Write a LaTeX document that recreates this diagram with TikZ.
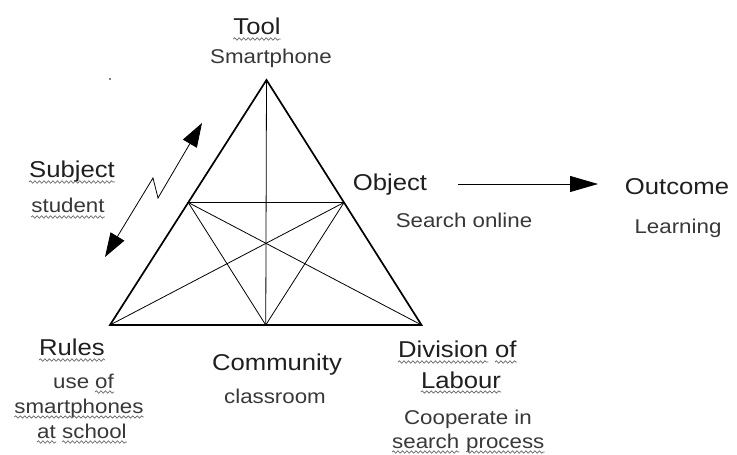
\documentclass[tikz,border=0pt]{standalone}
\usepackage{fontspec}
\setmainfont[FakeStretch=1.12]{Liberation Sans}
\usetikzlibrary{arrows.meta,calc,decorations.pathmorphing}
\newcommand\squig[1]{\draw[squigline] ([yshift=-4bp]#1.base west) -- ([yshift=-4bp]#1.base east);}
\begin{document}
\begin{tikzpicture}[x=1bp,y=-1bp,
  head/.style={inner sep=0pt,font=\fontsize{23}{30}\selectfont,text=black!88,anchor=base},
  sub/.style={inner sep=0pt,font=\fontsize{20}{25}\selectfont,text=black!78,anchor=base},
  squigline/.style={draw=black!60,line width=0.7bp,decorate,decoration={snake,amplitude=1.2bp,segment length=4.5bp}},
  outer/.style={line width=1.7bp,line join=miter},
  inner/.style={line width=0.8bp},
  bigtip/.style={line width=0.8bp,{Triangle[length=24bp,width=16bp]}-{Triangle[length=24bp,width=16bp]}}]
\useasboundingbox (0,0) rectangle (737,455);
% triangle
\coordinate (A) at (266.5,80);
\coordinate (B) at (110,325);
\coordinate (C) at (421.5,325);
\coordinate (mAB) at ($(A)!0.5!(B)$);
\coordinate (mAC) at ($(A)!0.5!(C)$);
\coordinate (mBC) at ($(B)!0.5!(C)$);
\draw[inner] (A) -- (mBC);
\draw[inner] (B) -- (mAC);
\draw[inner] (C) -- (mAB);
\draw[inner] (mAB) -- (mAC) -- (mBC) -- cycle;
\draw[outer] (A) -- (B) -- (C) -- cycle;
% labels
\node[head] (tool) at (257,35) {Tool};
\node[sub] (smart) at (271,64) {Smartphone};
\node[head] (subject) at (72,178) {Subject};
\node[sub] (student) at (68,213) {student};
\node[head] (object) at (390,191) {Object};
\node[sub] (search) at (464,228) {Search online};
\node[head] (outcome) at (677,195) {Outcome};
\node[sub] (learning) at (678,234) {Learning};
\node[head] (rules) at (72,356) {Rules};
\node[sub,anchor=base west] (use) at (53,388) {use};
\node[sub,anchor=base west] (of1) at (95,388) {of};
\node[sub] (smartphones) at (79,413) {smartphones};
\node[sub,anchor=base west] (at) at (37,438) {at};
\node[sub,anchor=base west] (school) at (62,438) {school};
\node[head] (community) at (277,370) {Community};
\node[sub] (classroom) at (275,403) {classroom};
\node[head,anchor=base west] (division) at (398,358) {Division};
\node[head,anchor=base west] (of2) at (495,358) {of};
\node[head] (labour) at (461,388) {Labour};
\node[sub] (coop) at (468,424) {Cooperate in};
\node[sub,anchor=base west] (search2) at (392,448) {search};
\node[sub,anchor=base west] (process) at (466,448) {process};
% squiggly underlines
\squig{tool}
\squig{subject}
\squig{student}
\squig{rules}
\squig{of1}
\squig{smartphones}
\squig{at}
\squig{school}
\squig{division}
\squig{of2}
\squig{labour}
\squig{search2}
\squig{process}
% arrows
\coordinate (o1) at (458,184);
\coordinate (o2) at (598,184);
\draw[line width=0.8bp,-{Triangle[length=28bp,width=16bp]}] (o1) -- (o2);
\coordinate (z1) at (105,257);
\coordinate (z2) at (153,178);
\coordinate (z3) at (158,198);
\coordinate (z4) at (202,123);
\draw[bigtip] (z1) -- (z2) -- (z3) -- (z4);
\fill (110,79) circle (0.9bp);
\end{tikzpicture}
\end{document}
